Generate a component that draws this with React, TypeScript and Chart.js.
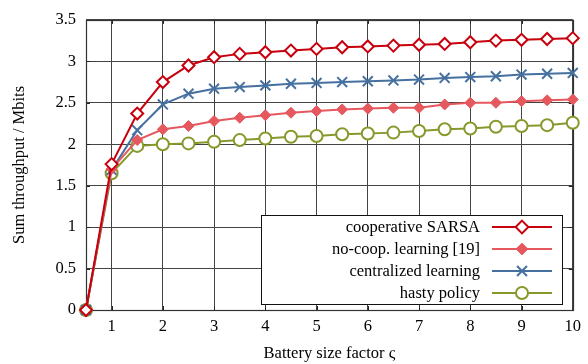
import React, { useEffect, useRef } from "react";
import { Chart, registerables } from "chart.js";

Chart.register(...registerables);

const xValues = [0.5, 1, 1.5, 2, 2.5, 3, 3.5, 4, 4.5, 5, 5.5, 6, 6.5, 7, 7.5, 8, 8.5, 9, 9.5, 10];
const coopSarsa = [0, 1.76, 2.37, 2.75, 2.95, 3.05, 3.09, 3.11, 3.13, 3.15, 3.17, 3.18, 3.19, 3.2, 3.21, 3.23, 3.25, 3.26, 3.27, 3.28];
const noCoop = [0, 1.7, 2.05, 2.18, 2.22, 2.28, 2.32, 2.35, 2.38, 2.4, 2.42, 2.43, 2.44, 2.44, 2.48, 2.5, 2.5, 2.52, 2.53, 2.54];
const centralized = [0, 1.69, 2.17, 2.48, 2.61, 2.67, 2.69, 2.71, 2.73, 2.74, 2.75, 2.76, 2.77, 2.78, 2.8, 2.81, 2.82, 2.84, 2.85, 2.86];
const hasty = [0, 1.65, 1.98, 2.0, 2.01, 2.03, 2.05, 2.07, 2.09, 2.1, 2.12, 2.13, 2.14, 2.16, 2.18, 2.19, 2.21, 2.22, 2.23, 2.26];
const xTicks = [1, 2, 3, 4, 5, 6, 7, 8, 9, 10];
const yTicks = [0, 0.5, 1, 1.5, 2, 2.5, 3, 3.5];
const seriesNames = ["cooperative SARSA", "no-coop. learning [19]", "centralized learning", "hasty policy"];

const FONT = "'Liberation Serif', 'DejaVu Serif', serif";
const FS = 16.5;

function drawPointShape(ctx: CanvasRenderingContext2D, opts: any, x: number, y: number) {
  const r = opts.radius;
  ctx.beginPath();
  if (opts.pointStyle === "rectRot") {
    const d = r * Math.SQRT2 * 0.75;
    ctx.moveTo(x, y - d);
    ctx.lineTo(x + d, y);
    ctx.lineTo(x, y + d);
    ctx.lineTo(x - d, y);
    ctx.closePath();
    ctx.fill();
    ctx.stroke();
  } else if (opts.pointStyle === "crossRot") {
    const d = r * Math.SQRT1_2;
    ctx.moveTo(x - d, y - d);
    ctx.lineTo(x + d, y + d);
    ctx.moveTo(x + d, y - d);
    ctx.lineTo(x - d, y + d);
    ctx.stroke();
  } else {
    ctx.arc(x, y, r, 0, Math.PI * 2);
    ctx.fill();
    ctx.stroke();
  }
}

const frame = {
  id: "frame",
  beforeDatasetsDraw(chart: any) {
    const { ctx, chartArea: a, scales } = chart;
    const xs = scales.x;
    const ys = scales.y;
    ctx.save();
    ctx.strokeStyle = "#222";
    ctx.lineWidth = 1;
    ctx.beginPath();
    xTicks.forEach((t) => {
      const px = Math.round(xs.getPixelForValue(t)) + 0.5;
      ctx.moveTo(px, a.bottom);
      ctx.lineTo(px, a.bottom - 4);
      ctx.moveTo(px, a.top);
      ctx.lineTo(px, a.top + 4);
    });
    yTicks.forEach((t) => {
      const py = Math.round(ys.getPixelForValue(t)) + 0.5;
      ctx.moveTo(a.left, py);
      ctx.lineTo(a.left + 4, py);
      ctx.moveTo(a.right, py);
      ctx.lineTo(a.right - 4, py);
    });
    ctx.stroke();
    ctx.strokeStyle = "#333";
    ctx.lineWidth = 1.2;
    ctx.strokeRect(Math.round(a.left) + 0.5, Math.round(a.top) + 0.5, Math.round(a.right - a.left), Math.round(a.bottom - a.top));
    ctx.restore();
  },
  afterDraw(chart: any) {
    const { ctx } = chart;
    ctx.save();
    const bx = 261, by = 215, bw = 301, bh = 89;
    ctx.fillStyle = "#fff";
    ctx.fillRect(bx, by, bw, bh);
    ctx.strokeStyle = "#111";
    ctx.lineWidth = 1;
    ctx.strokeRect(bx + 0.5, by + 0.5, bw, bh);
    ctx.font = FS + "px " + FONT;
    ctx.textAlign = "right";
    ctx.textBaseline = "middle";
    chart.data.datasets.forEach((ds: any, i: number) => {
      const y = 227 + i * 22;
      ctx.fillStyle = "#000";
      ctx.fillText(ds.label, 480, y + 1);
      ctx.strokeStyle = ds.borderColor;
      ctx.lineWidth = 2;
      ctx.beginPath();
      ctx.moveTo(492, y);
      ctx.lineTo(552, y);
      ctx.stroke();
      ctx.fillStyle = ds.pointBackgroundColor;
      ctx.strokeStyle = ds.borderColor;
      ctx.lineWidth = ds.pointBorderWidth;
      drawPointShape(ctx, { pointStyle: ds.pointStyle, radius: ds.pointRadius }, 522, y);
    });
    ctx.restore();
  },
};

export default function App() {
  const ref = useRef<HTMLCanvasElement | null>(null);
  useEffect(() => {
    document.body.style.margin = "0";
    const toPts = (arr: number[]) => arr.map((v, i) => ({ x: xValues[i], y: v }));
    const mk = (label: string, data: number[], color: string, style: string, radius: number, bg: string, pbw: number) => ({
      label,
      data: toPts(data),
      borderColor: color,
      backgroundColor: color,
      borderWidth: 2,
      pointStyle: style,
      pointRadius: radius,
      pointBackgroundColor: bg,
      pointBorderColor: color,
      pointBorderWidth: pbw,
      tension: 0,
      clip: false,
    });
    const chart = new Chart(ref.current as HTMLCanvasElement, {
      type: "line",
      data: {
        datasets: [
          mk(seriesNames[0], coopSarsa, "#c8000e", "rectRot", 6, "#ffffff", 2),
          mk(seriesNames[1], noCoop, "#e5585e", "rectRot", 5.5, "#e5585e", 1),
          mk(seriesNames[2], centralized, "#4570a0", "crossRot", 7, "#4570a0", 2),
          mk(seriesNames[3], hasty, "#869a2c", "circle", 6, "#ffffff", 2),
        ] as any,
      },
      options: {
        animation: false,
        responsive: false,
        devicePixelRatio: 1,
        layout: { padding: { top: 16, right: 14, left: 0, bottom: 0 } },
        plugins: { legend: { display: false }, tooltip: { enabled: false } },
        scales: {
          x: {
            type: "linear",
            min: 0.5,
            max: 10,
            afterBuildTicks: (s: any) => {
              s.ticks = xTicks.map((v) => ({ value: v }));
            },
            afterFit: (s: any) => {
              s.height = 54;
            },
            border: { display: false },
            grid: { color: "#444", lineWidth: 1, borderDash: [1, 2], drawTicks: false } as any,
            ticks: { color: "#000", font: { family: FONT, size: FS }, padding: 7, maxRotation: 0, autoSkip: false },
            title: { display: true, text: "Battery size factor ς", color: "#000", font: { family: FONT, size: FS }, padding: { top: 2, bottom: 0 } },
          },
          y: {
            min: 0,
            max: 3.5,
            afterBuildTicks: (s: any) => {
              s.ticks = yTicks.map((v) => ({ value: v }));
            },
            afterFit: (s: any) => {
              s.width = 86;
            },
            border: { display: false },
            grid: { color: "#444", lineWidth: 1, borderDash: [1, 2], drawTicks: false } as any,
            ticks: { color: "#000", font: { family: FONT, size: FS }, padding: 10, callback: (v: any) => String(v) },
            title: { display: true, text: "Sum throughput / Mbits", color: "#000", font: { family: FONT, size: FS }, padding: { top: 10, bottom: 0 } },
          },
        },
      },
      plugins: [frame],
    });
    return () => chart.destroy();
  }, []);
  return (
    <div style={{ width: 588, height: 364 }}>
      <canvas ref={ref} width={588} height={364} style={{ display: "block" }} />
    </div>
  );
}
